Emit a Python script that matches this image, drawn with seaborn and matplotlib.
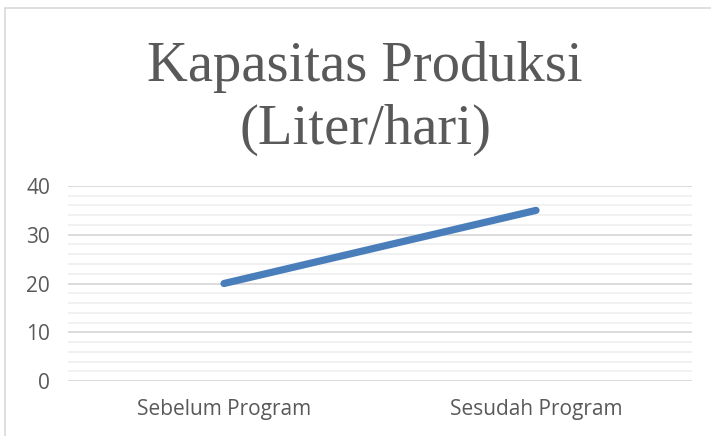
import pandas as pd
import seaborn as sns
import matplotlib.pyplot as plt
from matplotlib.ticker import MultipleLocator
from matplotlib.lines import Line2D

# data
categories = ["Sebelum Program", "Sesudah Program"]
kapasitas = [20, 35]

df = pd.DataFrame({"periode": categories, "kapasitas": kapasitas})

sns.set_style("white")
plt.rcParams['font.family'] = ['Open Sans', 'DejaVu Sans']

W, H = 711, 436
fig = plt.figure(figsize=(W / 100, H / 100), dpi=100)
ax = fig.add_axes([68 / W, 1 - 381 / H, (692 - 68) / W, (381 - 186) / H])

sns.lineplot(data=df, x="periode", y="kapasitas", ax=ax, color="#4a7ebb",
             linewidth=5.2, solid_capstyle="round", sort=False)

ax.set_xlim(-0.5, 1.5)
ax.set_ylim(0, 40)
ax.yaxis.set_major_locator(MultipleLocator(10))
ax.yaxis.set_minor_locator(MultipleLocator(2))
ax.grid(which="major", axis="y", color="#d9d9d9", linewidth=1.3)
ax.grid(which="minor", axis="y", color="#f0f0f0", linewidth=1.3)
ax.set_axisbelow(True)
for s in ax.spines.values():
    s.set_visible(False)
ax.tick_params(axis="both", which="both", length=0, labelsize=15,
               labelcolor="#595959")
ax.tick_params(axis="y", pad=13)
ax.tick_params(axis="x", pad=13)
ax.set_xlabel("")
ax.set_ylabel("")

fig.text(365 / W, 1 - 67 / H, "Kapasitas Produksi", ha="center", va="center",
         fontsize=40.8, color="#595959", family=["Liberation Serif"])
fig.text(365 / W, 1 - 130 / H, "(Liter/hari)", ha="center", va="center",
         fontsize=40.8, color="#595959", family=["Liberation Serif"])

# chart border
fig.add_artist(Line2D([5 / W, 5 / W], [0, 1 - 8 / H], color="#d9d9d9", lw=1.2))
fig.add_artist(Line2D([5 / W, 1], [1 - 8 / H, 1 - 8 / H], color="#d9d9d9", lw=1.2))

fig.savefig("out.png", dpi=100)
